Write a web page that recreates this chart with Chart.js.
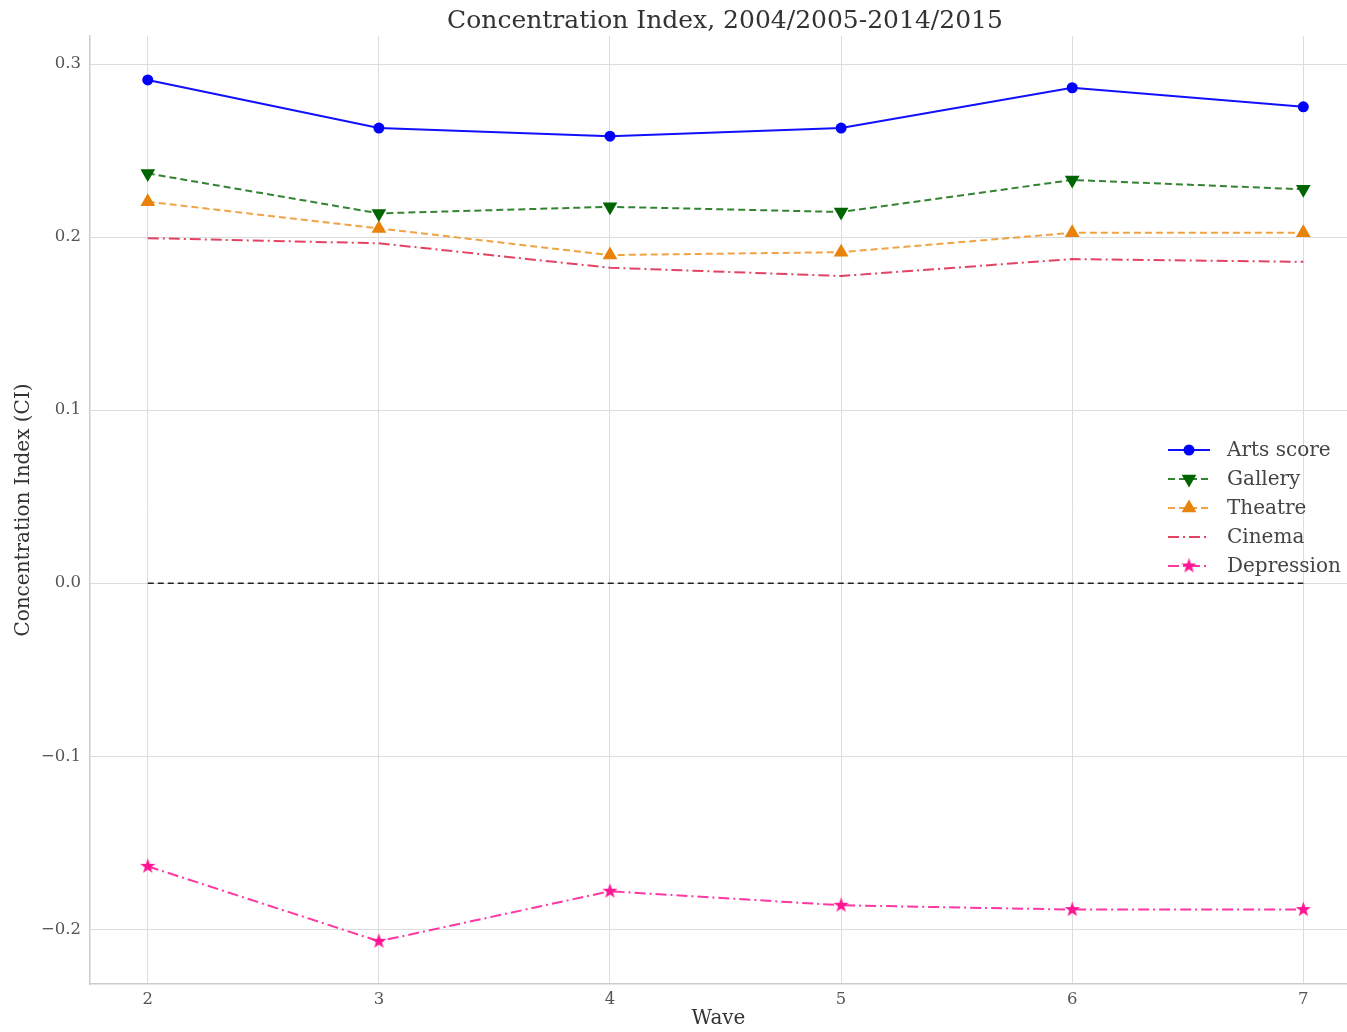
<!DOCTYPE html>
<html>
<head>
<meta charset="utf-8">
<script src="https://cdn.jsdelivr.net/npm/chart.js@4/dist/chart.umd.min.js"></script>
<style>
  html, body { margin: 0; padding: 0; background: #ffffff; }
  #wrap { width: 1347px; height: 1032px; position: relative; }
</style>
</head>
<body>
<div id="wrap"><canvas id="chart"></canvas></div>
<script>
// Survey waves on the x axis
const waves = [2, 3, 4, 5, 6, 7];

// Concentration index per wave
const artsScore  = [0.2908, 0.2630, 0.2583, 0.2630, 0.2863, 0.2753];
const gallery    = [0.2368, 0.2137, 0.2175, 0.2145, 0.2330, 0.2276];
const theatre    = [0.2204, 0.2050, 0.1896, 0.1913, 0.2025, 0.2025];
const cinema     = [0.1994, 0.1964, 0.1823, 0.1775, 0.1873, 0.1857];
const depression = [-0.1636, -0.2069, -0.1780, -0.1861, -0.1886, -0.1886];
const baseline   = [0, 0, 0, 0, 0, 0];

// Axis ticks
const xTickValues = [2, 3, 4, 5, 6, 7];
const yTickValues = [-0.2, -0.1, 0.0, 0.1, 0.2, 0.3];

const FONT = "'DejaVu Serif', 'Liberation Serif', serif";

// Filled five-pointed star marker
function makeStar(size, color) {
  const c = document.createElement('canvas');
  c.width = size; c.height = size;
  const g = c.getContext('2d');
  const cx = size / 2, cy = size / 2;
  const outer = size / 2 - 0.5, inner = outer * 0.4;
  g.beginPath();
  for (let i = 0; i < 10; i++) {
    const r = i % 2 === 0 ? outer : inner;
    const a = -Math.PI / 2 + i * Math.PI / 5;
    const px = cx + r * Math.cos(a), py = cy + r * Math.sin(a);
    if (i === 0) g.moveTo(px, py); else g.lineTo(px, py);
  }
  g.closePath();
  g.fillStyle = color;
  g.fill();
  return c;
}
const starImg = makeStar(17, '#ff1493');

const pts = vals => waves.map((w, i) => ({ x: w, y: vals[i] }));

const datasets = [
  { label: 'Arts score', data: pts(artsScore), borderColor: '#1010ff', borderWidth: 2,
    pointStyle: 'circle', pointRadius: 5.5, pointBackgroundColor: '#0000ff', pointBorderWidth: 0, pointRotation: 0 },
  { label: 'Gallery', data: pts(gallery), borderColor: 'rgba(0,100,0,0.8)', borderWidth: 2, borderDash: [7, 4],
    pointStyle: 'triangle', pointRotation: 180, pointRadius: 8.5, pointBackgroundColor: '#006400', pointBorderWidth: 0 },
  { label: 'Theatre', data: pts(theatre), borderColor: 'rgba(236,140,20,0.8)', borderWidth: 2, borderDash: [7, 4],
    pointStyle: 'triangle', pointRotation: 0, pointRadius: 8.5, pointBackgroundColor: '#e8820a', pointBorderWidth: 0 },
  { label: 'Cinema', data: pts(cinema), borderColor: 'rgba(220,20,60,0.8)', borderWidth: 2, borderDash: [11, 4, 2, 4],
    pointStyle: 'circle', pointRadius: 0, pointBackgroundColor: '#dc143c', pointBorderWidth: 0, pointRotation: 0 },
  { label: 'Depression', data: pts(depression), borderColor: 'rgba(255,20,147,0.85)', borderWidth: 2, borderDash: [11, 4, 2, 4],
    pointStyle: starImg, pointRadius: 8, pointBackgroundColor: '#ff1493', pointBorderWidth: 0, pointRotation: 0 },
  { label: '_zero', data: pts(baseline), borderColor: '#222222', borderWidth: 1.6, borderDash: [6, 4],
    pointRadius: 0 }
];

// Title drawn above the axes, centred on the full axes width
const titlePlugin = {
  id: 'topTitle',
  afterDraw(chart) {
    const ctx = chart.ctx;
    ctx.save();
    ctx.font = `25px ${FONT}`;
    ctx.fillStyle = '#333333';
    ctx.textAlign = 'center';
    ctx.textBaseline = 'middle';
    ctx.fillText('Concentration Index, 2004/2005-2014/2015', 725, 21);
    ctx.restore();
  }
};

// Legend with line sample + marker, placed inside the axes
const legendPlugin = {
  id: 'lineLegend',
  afterDraw(chart) {
    const ctx = chart.ctx;
    const x0 = 1168, x1 = 1210, tx = 1227, y0 = 450, dy = 29;
    let row = 0;
    chart.data.datasets.forEach(ds => {
      if (ds.label.startsWith('_')) return;
      const y = y0 + row * dy;
      ctx.save();
      ctx.strokeStyle = ds.borderColor;
      ctx.lineWidth = ds.borderWidth;
      ctx.setLineDash(ds.borderDash || []);
      ctx.beginPath();
      ctx.moveTo(x0, y);
      ctx.lineTo(x1, y);
      ctx.stroke();
      ctx.setLineDash([]);
      if (ds.pointRadius > 0) {
        ctx.fillStyle = ds.pointBackgroundColor;
        ctx.strokeStyle = ds.pointBackgroundColor;
        Chart.helpers.drawPoint(ctx, {
          pointStyle: ds.pointStyle, radius: ds.pointRadius,
          rotation: ds.pointRotation || 0, borderWidth: 0
        }, (x0 + x1) / 2, y);
      }
      ctx.font = `20px ${FONT}`;
      ctx.fillStyle = '#444444';
      ctx.textAlign = 'left';
      ctx.textBaseline = 'middle';
      ctx.fillText(ds.label, tx, y + 1);
      ctx.restore();
      row++;
    });
  }
};

new Chart(document.getElementById('chart'), {
  type: 'line',
  data: { datasets },
  plugins: [titlePlugin, legendPlugin],
  options: {
    responsive: true,
    maintainAspectRatio: false,
    animation: false,
    layout: { autoPadding: false, padding: { top: 36, right: 0, left: 0, bottom: 0 } },
    plugins: { legend: { display: false }, tooltip: { enabled: false }, title: { display: false } },
    elements: { line: { tension: 0, fill: false } },
    scales: {
      x: {
        type: 'linear',
        min: 1.75,
        max: 7.189,
        afterBuildTicks: s => { s.ticks = xTickValues.map(v => ({ value: v })); },
        afterFit: s => { s.height = 48; s.paddingLeft = 0; s.paddingRight = 0; },
        grid: { color: '#dddddd', lineWidth: 1, drawTicks: false },
        border: { display: true, color: '#cccccc', width: 1.5 },
        ticks: { font: { family: FONT, size: 16.5 }, color: '#555555', padding: 6,
                 callback: v => String(v) },
        title: { display: true, text: 'Wave', font: { family: FONT, size: 20 }, color: '#333333',
                 padding: { top: 0, bottom: 1 } }
      },
      y: {
        type: 'linear',
        min: -0.2316,
        max: 0.3162,
        afterBuildTicks: s => { s.ticks = yTickValues.map(v => ({ value: v })); },
        afterFit: s => { s.width = 90; s.paddingTop = 0; s.paddingBottom = 0; },
        grid: { color: '#dddddd', lineWidth: 1, drawTicks: false },
        border: { display: true, color: '#cccccc', width: 1.5 },
        ticks: { font: { family: FONT, size: 16.5 }, color: '#555555', padding: 9,
                 callback: v => v.toFixed(1).replace('-', '\u2212') },
        title: { display: true, text: 'Concentration Index (CI)', font: { family: FONT, size: 20 }, color: '#333333',
                 padding: { top: 12, bottom: 0 } }
      }
    }
  }
});
</script>
</body>
</html>
